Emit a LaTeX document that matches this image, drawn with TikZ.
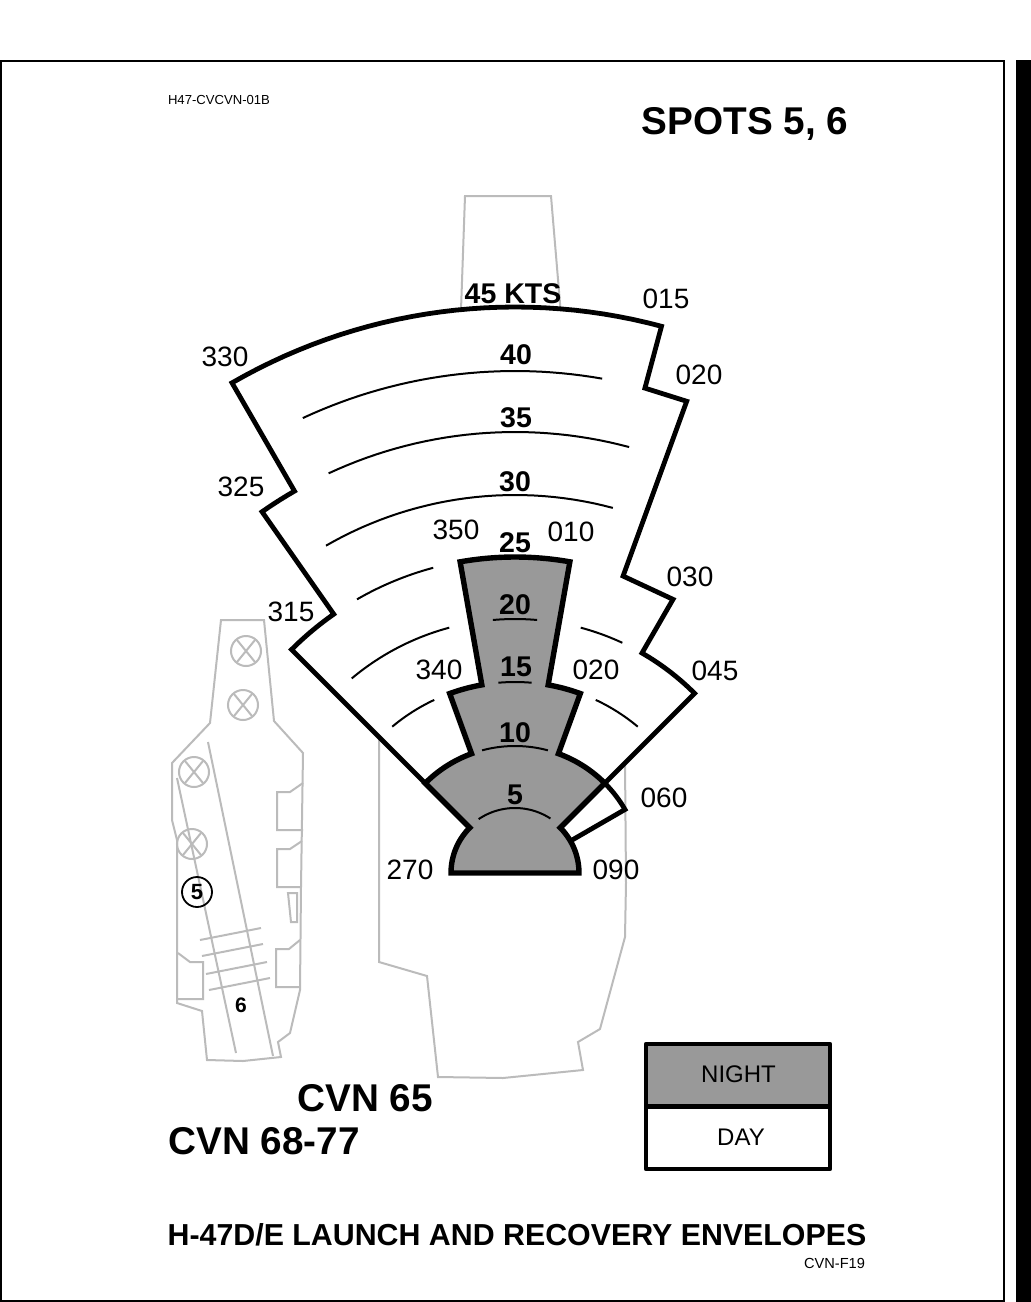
\documentclass[tikz,border=0pt]{standalone}
\usepackage{fontspec}
\setmainfont{Liberation Sans}
\newcommand\pc[2]{({515+#1*cos(#2)},{873-#1*sin(#2)})}
\newcommand\arcP[3]{-- plot[domain=#2:#3,samples=31,variable=\t] ({515+#1*cos(\t)},{873-#1*sin(\t)})}
\definecolor{shipgray}{HTML}{BBBBBB}
\definecolor{nightgray}{HTML}{999999}
\tikzset{
  x=1pt,y=-1pt,
  ship/.style={draw=shipgray,line width=2pt,line join=miter},
  shipmark/.style={draw=shipgray,line width=2pt,circle,minimum size=30pt,inner sep=0pt},
  heavy/.style={draw=black,line width=4.8pt,line join=miter,miter limit=8},
  heavier/.style={draw=black,line width=5.4pt,line join=miter,miter limit=8},
  thinarc/.style={draw=black,line width=2pt},
  lbl/.style={inner sep=0pt,font=\fontsize{28}{28}\selectfont},
  blbl/.style={inner sep=0pt,font=\fontsize{28.5}{28.5}\selectfont\bfseries},
  head/.style={inner sep=0pt,anchor=base,font=\fontsize{38.7}{38.7}\selectfont\bfseries},
  legendbox/.style={draw=black,line width=4.8pt,line join=round,minimum width=184pt,minimum height=62.5pt,inner sep=0pt},
  legendtxt/.style={inner sep=0pt,font=\fontsize{24}{24}\selectfont},
}
\begin{document}
\begin{tikzpicture}
\useasboundingbox (0,0) rectangle (1031,1302);
\fill[white] (0,0) rectangle (1031,1302);
% frame and side bar
\draw[line width=2pt] (1,61) rectangle (1004,1301);
\fill[black] (1016,60) rectangle (1031,1302);
% large ship outline
\draw[ship] (461,310) -- (465,196) -- (551,196) -- (561,315);
\draw[ship] (379,730) -- (379,962) -- (427,976) -- (438,1077) -- (503,1078) -- (583,1070) -- (578,1042) -- (600,1029) -- (625,937) -- (626,883) -- (625,760);
% day envelope
\draw[heavy,fill=white] \pc{566}{120} \arcP{566}{120}{75} -- \pc{502}{75} -- \pc{502}{70} -- \pc{316}{70} -- \pc{316}{60} -- \pc{254}{60} \arcP{254}{60}{45} -- \pc{64}{45} -- \pc{64}{135} -- \pc{316}{135} \arcP{316}{135}{125} -- \pc{441}{125} \arcP{441}{125}{120} -- cycle;
\draw[heavy,fill=white] \pc{127}{45} \arcP{127}{45}{30} -- \pc{64}{30};
% day speed arcs
\draw[thinarc] \pc{502}{115} \arcP{502}{115}{80};
\draw[thinarc] \pc{441}{115} \arcP{441}{115}{75};
\draw[thinarc] \pc{378}{120} \arcP{378}{120}{75};
\draw[thinarc] \pc{316}{120} \arcP{316}{120}{105};
\draw[thinarc] \pc{254}{130} \arcP{254}{130}{105};
\draw[thinarc] \pc{254}{75} \arcP{254}{75}{65};
\draw[thinarc] \pc{191}{130} \arcP{191}{130}{115};
\draw[thinarc] \pc{191}{65} \arcP{191}{65}{50};
% night envelope
\draw[heavier,fill=nightgray] \pc{64}{180} \arcP{64}{180}{135} -- \pc{127}{135} \arcP{127}{135}{110} -- \pc{191}{110} \arcP{191}{110}{100} -- \pc{316}{100} \arcP{316}{100}{80} -- \pc{191}{80} \arcP{191}{80}{70} -- \pc{127}{70} \arcP{127}{70}{45} -- \pc{64}{45} \arcP{64}{45}{0} -- cycle;
\draw[thinarc] \pc{254}{95} \arcP{254}{95}{85};
\draw[thinarc] \pc{191}{95} \arcP{191}{95}{85};
\draw[thinarc] \pc{127}{105} \arcP{127}{105}{75};
\draw[thinarc] \pc{65}{124} \arcP{65}{124}{57};
% bearing labels
\node[lbl] (b330) at (225,357) {330};
\node[lbl] (b015) at (666,299) {015};
\node[lbl] (b020) at (699,375) {020};
\node[lbl] (b325) at (241,487) {325};
\node[lbl] (b030) at (690,577) {030};
\node[lbl] (b315) at (291,612) {315};
\node[lbl] (b045) at (715,671) {045};
\node[lbl] (b350) at (456,530) {350};
\node[lbl] (b010) at (571,532) {010};
\node[lbl] (b340) at (439,670) {340};
\node[lbl] (b020n) at (596,670) {020};
\node[lbl] (b060) at (664,798) {060};
\node[lbl] (b270) at (410,870) {270};
\node[lbl] (b090) at (616,870) {090};
% speed labels
\node[blbl] (s45) at (513,294) {45 KTS};
\node[blbl] (s40) at (516,355) {40};
\node[blbl] (s35) at (516,418) {35};
\node[blbl] (s30) at (515,482) {30};
\node[blbl] (s25) at (515,543) {25};
\node[blbl] (s20) at (515,605) {20};
\node[blbl] (s15) at (516,667) {15};
\node[blbl] (s10) at (515,733) {10};
\node[blbl] (s5) at (515,795) {5};
% small ship
\draw[ship] (221,620) -- (264,620) -- (274,721) -- (303,753) -- (301,887) -- (300,990) -- (290,1033) -- (278,1042) -- (281,1057) -- (243,1061) -- (207,1060) -- (202,1011) -- (177,1003) -- (177,840) -- (172,820) -- (172,763) -- (210,723) -- cycle;
\draw[ship] (208,742) -- (273,1056);
\draw[ship] (177,778) -- (236,1053);
\draw[ship] (200,940) -- (261,928);
\draw[ship] (202,956) -- (263,944);
\draw[ship] (206,974) -- (267,962);
\draw[ship] (209,990) -- (270,978);
\draw[ship] (303,783) -- (290,792) -- (277,792) -- (277,830) -- (303,830);
\draw[ship] (302,841) -- (290,849) -- (277,849) -- (277,887) -- (301,887);
\draw[ship] (300,940) -- (289,949) -- (276,949) -- (276,987) -- (300,987);
\draw[ship] (178,953) -- (190,962) -- (203,962) -- (203,999) -- (177,999);
\draw[ship] (288,893) -- (297,893) -- (297,922) -- (291,922) -- cycle;
\foreach \n/\cx/\cy in {a/246/651,b/243/705,c/194/772,d/192/844}{
  \node[shipmark] (mark\n) at (\cx,\cy) {};
  \draw[ship] (\cx-9,\cy-11) -- (\cx+9,\cy+11);
  \draw[ship] (\cx+9,\cy-11) -- (\cx-9,\cy+11);
}
\node[draw=black,line width=1.8pt,circle,minimum size=30pt,inner sep=0pt,font=\fontsize{22}{22}\selectfont\bfseries] (spot5) at (197,892) {5};
\node[inner sep=0pt,font=\fontsize{21}{21}\selectfont\bfseries] (spot6) at (241,1005) {6};
% headings
\node[inner sep=0pt,font=\fontsize{13.1}{13.1}\selectfont] (code) at (219,100) {H47-CVCVN-01B};
\node[head] (spots) at (745,134) {SPOTS 5, 6};
\node[head] (cvna) at (365,1111) {CVN 65};
\node[head] (cvnb) at (264,1154) {CVN 68-77};
\node[inner sep=0pt,anchor=base,font=\fontsize{30.35}{30.35}\selectfont\bfseries] (title) at (517,1245) {H-47D/E LAUNCH AND RECOVERY ENVELOPES};
\node[inner sep=0pt,font=\fontsize{14.6}{14.6}\selectfont] (fig) at (834.5,1263) {CVN-F19};
% legend
\node[legendbox,fill=nightgray] (night) at (738,1075.25) {};
\node[legendbox,fill=white] (day) at (738,1137.75) {};
\node[legendtxt] (nighttxt) at (738.5,1074.5) {NIGHT};
\node[legendtxt] (daytxt) at (741,1137) {DAY};
\end{tikzpicture}
\end{document}
